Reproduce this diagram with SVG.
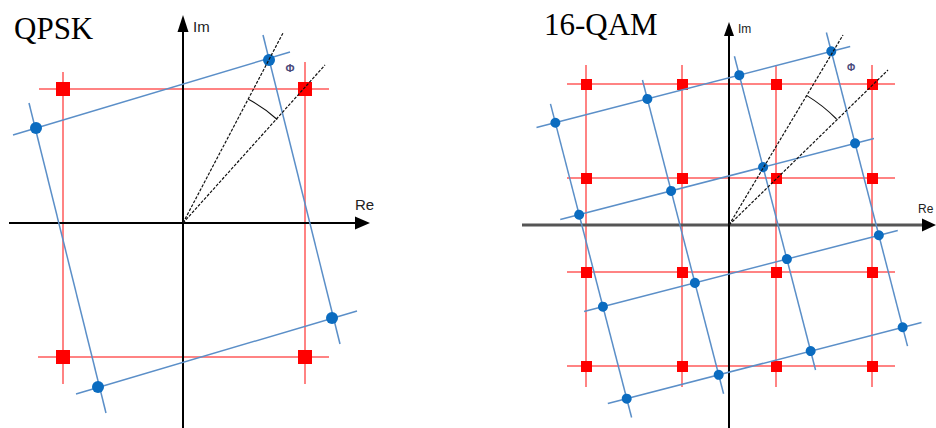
<svg xmlns="http://www.w3.org/2000/svg" width="936" height="428" viewBox="0 0 936 428">
<style>
.title{font-family:"Liberation Serif","Times New Roman",serif;fill:#000}
.lbl{font-family:"Liberation Sans",Arial,sans-serif;fill:#222}
.phi{font-family:"Liberation Sans",Arial,sans-serif;fill:#4a4a7a;font-weight:bold}
.rl{stroke:#ff5a5a;stroke-opacity:0.75;stroke-width:2;fill:none}
.bl{stroke:#5b8fc8;stroke-width:1.5;fill:none}
.sq{fill:#ff0000}
.dot{fill:#0b6cc0}
.ax{stroke:#000;stroke-width:2;fill:none}
.dash{stroke:#111;stroke-width:1.2;stroke-dasharray:3 1.5;fill:none}
.arc{stroke:#111;stroke-width:1.1;fill:none}
</style>
<rect width="936" height="428" fill="#fff"/>

<g id="qpsk">
  <text class="title" x="14" y="39" font-size="31">QPSK</text>
  <g id="qpsk-red">
    <line class="rl" x1="39" y1="89" x2="329" y2="89"/>
    <line class="rl" x1="38" y1="357" x2="329" y2="357"/>
    <line class="rl" x1="63" y1="72" x2="63" y2="384"/>
    <line class="rl" x1="305" y1="62" x2="305" y2="384"/>
    <rect class="sq" x="56" y="82" width="14" height="14"/>
    <rect class="sq" x="298" y="82" width="14" height="14"/>
    <rect class="sq" x="56" y="350" width="14" height="14"/>
    <rect class="sq" x="298" y="350" width="14" height="14"/>
  </g>
  <g id="qpsk-axes">
    <line class="ax" x1="9" y1="223" x2="358" y2="223"/>
    <polygon points="370,223 355,216.5 355,229.5" fill="#000"/>
    <line class="ax" x1="183" y1="428" x2="183" y2="28"/>
    <polygon points="183,15 177.5,32 188.5,32" fill="#000"/>
    <text class="lbl" x="193" y="32" font-size="15">Im</text>
    <text class="lbl" x="355" y="210" font-size="15">Re</text>
  </g>
  <g id="qpsk-blue">
    <line class="bl" x1="13" y1="135" x2="290" y2="52"/>
    <line class="bl" x1="76" y1="394" x2="357" y2="311"/>
    <line class="bl" x1="29" y1="103" x2="106" y2="413"/>
    <line class="bl" x1="263" y1="35" x2="340" y2="344"/>
    <circle class="dot" cx="269" cy="60" r="6"/>
    <circle class="dot" cx="36" cy="128" r="6"/>
    <circle class="dot" cx="332" cy="318" r="6"/>
    <circle class="dot" cx="98" cy="387" r="6"/>
  </g>
  <g id="qpsk-angle">
    <line class="dash" x1="183" y1="223" x2="283" y2="33"/>
    <line class="dash" x1="183" y1="223" x2="325" y2="65"/>
    <path class="arc" d="M248.4 99.2 A140 140 0 0 1 277.2 119.5"/>
    <text class="phi" x="290" y="72" font-size="11" text-anchor="middle">Φ</text>
  </g>
</g>

<g id="qam16">
  <text class="title" x="544" y="35" font-size="31">16-QAM</text>
  <g id="qam-red">
    <line class="rl" x1="567" y1="84" x2="895" y2="84"/>
    <line class="rl" x1="567" y1="178" x2="895" y2="178"/>
    <line class="rl" x1="567" y1="272" x2="895" y2="272"/>
    <line class="rl" x1="567" y1="366" x2="895" y2="366"/>
    <line class="rl" x1="586" y1="65" x2="586" y2="387"/>
    <line class="rl" x1="682" y1="65" x2="682" y2="387"/>
    <line class="rl" x1="776" y1="65" x2="776" y2="387"/>
    <line class="rl" x1="872" y1="65" x2="872" y2="387"/>
    <rect class="sq" x="581" y="79" width="11" height="11"/>
    <rect class="sq" x="677" y="79" width="11" height="11"/>
    <rect class="sq" x="771" y="79" width="11" height="11"/>
    <rect class="sq" x="867" y="79" width="11" height="11"/>
    <rect class="sq" x="581" y="173" width="11" height="11"/>
    <rect class="sq" x="677" y="173" width="11" height="11"/>
    <rect class="sq" x="771" y="173" width="11" height="11"/>
    <rect class="sq" x="867" y="173" width="11" height="11"/>
    <rect class="sq" x="581" y="267" width="11" height="11"/>
    <rect class="sq" x="677" y="267" width="11" height="11"/>
    <rect class="sq" x="771" y="267" width="11" height="11"/>
    <rect class="sq" x="867" y="267" width="11" height="11"/>
    <rect class="sq" x="581" y="361" width="11" height="11"/>
    <rect class="sq" x="677" y="361" width="11" height="11"/>
    <rect class="sq" x="771" y="361" width="11" height="11"/>
    <rect class="sq" x="867" y="361" width="11" height="11"/>
  </g>
  <g id="qam-axes">
    <line x1="522" y1="225" x2="924" y2="225" stroke="#555" stroke-width="3"/>
    <polygon points="936,225 922,218.5 922,231.5" fill="#000"/>
    <line class="ax" x1="729" y1="428" x2="729" y2="34"/>
    <polygon points="729,22 724,36 734,36" fill="#000"/>
    <text class="lbl" x="738" y="33" font-size="12">Im</text>
    <text class="lbl" x="918" y="213" font-size="12">Re</text>
  </g>
  <g id="qam-blue" transform="translate(729,225) rotate(-14.5)">
    <line class="bl" x1="-162" y1="-142.5" x2="162" y2="-142.5"/>
    <line class="bl" x1="-162" y1="-47.5" x2="162" y2="-47.5"/>
    <line class="bl" x1="-162" y1="47.5" x2="162" y2="47.5"/>
    <line class="bl" x1="-162" y1="142.5" x2="162" y2="142.5"/>
    <line class="bl" x1="-142.5" y1="-162" x2="-142.5" y2="162"/>
    <line class="bl" x1="-47.5" y1="-162" x2="-47.5" y2="162"/>
    <line class="bl" x1="47.5" y1="-162" x2="47.5" y2="162"/>
    <line class="bl" x1="142.5" y1="-162" x2="142.5" y2="162"/>
    <circle class="dot" cx="-142.5" cy="-142.5" r="5"/>
    <circle class="dot" cx="-47.5" cy="-142.5" r="5"/>
    <circle class="dot" cx="47.5" cy="-142.5" r="5"/>
    <circle class="dot" cx="142.5" cy="-142.5" r="5"/>
    <circle class="dot" cx="-142.5" cy="-47.5" r="5"/>
    <circle class="dot" cx="-47.5" cy="-47.5" r="5"/>
    <circle class="dot" cx="47.5" cy="-47.5" r="5"/>
    <circle class="dot" cx="142.5" cy="-47.5" r="5"/>
    <circle class="dot" cx="-142.5" cy="47.5" r="5"/>
    <circle class="dot" cx="-47.5" cy="47.5" r="5"/>
    <circle class="dot" cx="47.5" cy="47.5" r="5"/>
    <circle class="dot" cx="142.5" cy="47.5" r="5"/>
    <circle class="dot" cx="-142.5" cy="142.5" r="5"/>
    <circle class="dot" cx="-47.5" cy="142.5" r="5"/>
    <circle class="dot" cx="47.5" cy="142.5" r="5"/>
    <circle class="dot" cx="142.5" cy="142.5" r="5"/>
  </g>
  <g id="qam-angle">
    <line class="dash" x1="729" y1="225" x2="843" y2="35"/>
    <line class="dash" x1="729" y1="225" x2="888" y2="70"/>
    <path class="arc" d="M806.9 95.6 A151 151 0 0 1 836.5 119"/>
    <text class="phi" x="851" y="71" font-size="10" text-anchor="middle">Φ</text>
  </g>
</g>
</svg>
